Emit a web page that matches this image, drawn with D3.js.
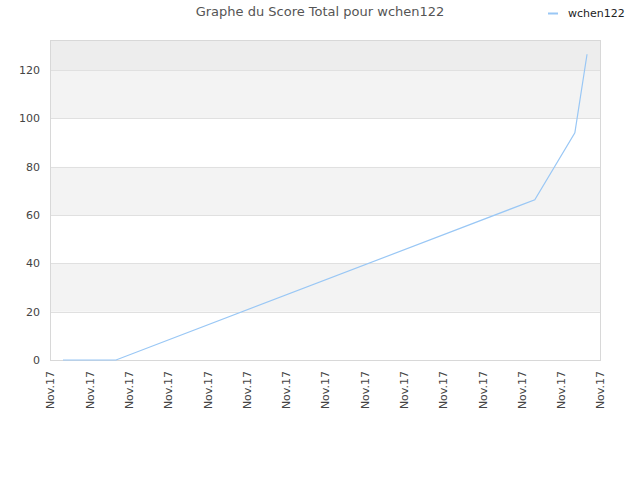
<!DOCTYPE html>
<html>
<head>
<meta charset="utf-8">
<script src="https://cdn.jsdelivr.net/npm/d3@7"></script>
<style>
body{margin:0;background:#fff;}
svg text{font-family:"DejaVu Sans",sans-serif;}
</style>
</head>
<body>
<div id="chart"></div>
<script>
(function(){
var W = 640, H = 480;
var Margin = {left: 50, right: 40, top: 40, bottom: 120};

var titleText = "Graphe du Score Total pour wchen122";
var seriesName = "wchen122";
// tick labels along the x axis (all the same day)
var xTickLabels = ["Nov.17","Nov.17","Nov.17","Nov.17","Nov.17","Nov.17","Nov.17","Nov.17",
	"Nov.17","Nov.17","Nov.17","Nov.17","Nov.17","Nov.17","Nov.17"];
// point positions, in tick units, and score
var pointX = [0.33, 1.68, 12.34, 13.36, 13.67];
var pointY = [0, 0, 66.3, 94, 126.5];
var yTicks = [0, 20, 40, 60, 80, 100, 120];
var yMax = 132.4;

var svg = d3.select("#chart").append("svg").attr("width", W).attr("height", H);

var x = d3.scaleLinear().domain([0, xTickLabels.length - 1]).range([Margin.left, W - Margin.right]);
var y = d3.scaleLinear().domain([0, yMax]).range([H - Margin.bottom, Margin.top]);

// background bands
var bands = [];
for (var i = 0; i < yTicks.length; i++){
	var lo = yTicks[i], hi = i + 1 < yTicks.length ? yTicks[i + 1] : yMax;
	bands.push({lo: lo, hi: hi, idx: i});
}
svg.append("g").selectAll("rect").data(bands).enter().append("rect")
	.attr("x", x.range()[0])
	.attr("width", x.range()[1] - x.range()[0])
	.attr("y", function(d){ return y(d.hi); })
	.attr("height", function(d){ return y(d.lo) - y(d.hi); })
	.attr("fill", function(d){
		if (d.idx == yTicks.length - 1) return "#ededed";
		return d.idx % 2 ? "#f3f3f3" : "#ffffff";
	});

// grid lines
svg.append("g").selectAll("line").data(yTicks).enter().append("line")
	.attr("x1", x.range()[0]).attr("x2", x.range()[1])
	.attr("y1", function(d){ return Math.round(y(d)) + 0.5; })
	.attr("y2", function(d){ return Math.round(y(d)) + 0.5; })
	.attr("stroke", "#e0e0e0");

// frame
svg.append("rect")
	.attr("x", x.range()[0] + 0.5).attr("y", y(yMax) + 0.5)
	.attr("width", x.range()[1] - x.range()[0])
	.attr("height", y(0) - y(yMax))
	.attr("fill", "none").attr("stroke", "#d8d8d8");

// y axis labels
var yAxis = d3.axisLeft(y).tickValues(yTicks).tickSize(0).tickPadding(10);
var yG = svg.append("g").attr("transform", "translate(" + x.range()[0] + ",0)").call(yAxis);
yG.select(".domain").remove();
yG.selectAll("text").attr("fill", "#444").style("font-size", "11px");

// x axis labels
var xAxis = d3.axisBottom(x).tickValues(d3.range(xTickLabels.length))
	.tickFormat(function(d){ return xTickLabels[d]; }).tickSize(0);
var xG = svg.append("g").attr("transform", "translate(0," + y(0) + ")").call(xAxis);
xG.select(".domain").remove();
xG.selectAll("text")
	.attr("fill", "#444").style("font-size", "11px")
	.attr("text-anchor", "end")
	.attr("dy", "0.35em")
	.attr("transform", "translate(0,11) rotate(-90)")
	.attr("x", 0).attr("y", 0);

// series line
var pts = pointX.map(function(v, i){ return [v, pointY[i]]; });
var line = d3.line().x(function(d){ return x(d[0]); }).y(function(d){ return y(d[1]); });
svg.append("path").datum(pts)
	.attr("d", line)
	.attr("fill", "none")
	.attr("stroke", "#99c7f5")
	.attr("stroke-width", 1.2);

// title
svg.append("text").attr("x", 320).attr("y", 16)
	.attr("text-anchor", "middle")
	.attr("fill", "#555").style("font-size", "13px")
	.text(titleText);

// legend
svg.append("line").attr("x1", 548).attr("x2", 558).attr("y1", 13.5).attr("y2", 13.5)
	.attr("stroke", "#99c7f5").attr("stroke-width", 2);
svg.append("text").attr("x", 568).attr("y", 17)
	.attr("fill", "#222").style("font-size", "11px")
	.text(seriesName);
})();
</script>
</body>
</html>
